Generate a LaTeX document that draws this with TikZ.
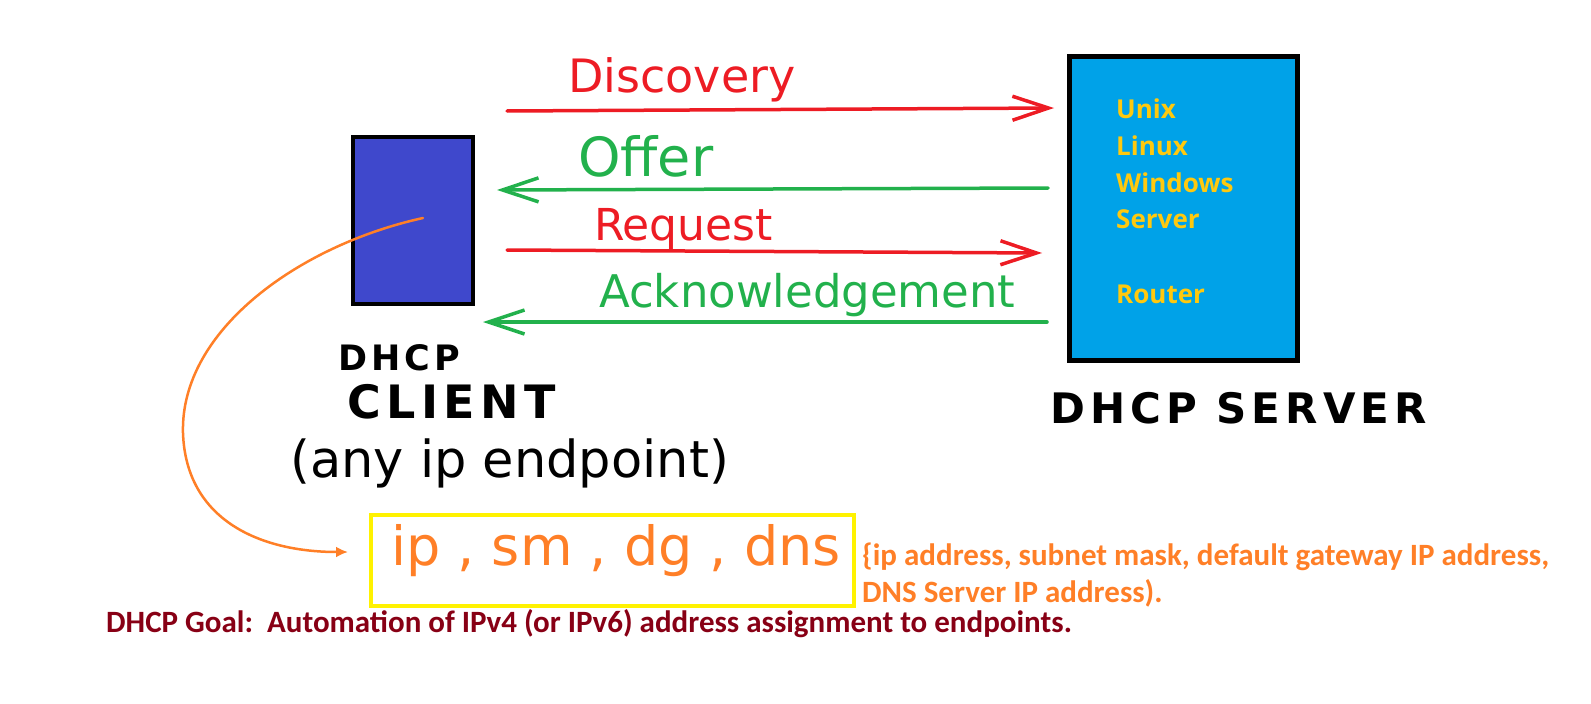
\documentclass[tikz,border=0pt]{standalone}
\usepackage{fontspec}
\setmainfont{Carlito}
\newfontfamily\osfont{Open Sans}
\newfontfamily\handfont{DejaVu Sans}
\newfontfamily\handwide[LetterSpace=12]{DejaVu Sans}
\usetikzlibrary{arrows.meta}
\definecolor{pred}{HTML}{ED1C24}
\definecolor{pgreen}{HTML}{22B14C}
\definecolor{porange}{HTML}{FF7F27}
\definecolor{pyellow}{HTML}{FFF200}
\definecolor{pgold}{HTML}{FFC90E}
\definecolor{pindigo}{HTML}{3F48CC}
\definecolor{pblue}{HTML}{00A2E8}
\definecolor{maroon}{HTML}{880015}
\tikzset{cbox/.style={draw=black,line width=4pt,fill=pindigo,minimum width=120pt,minimum height=167pt,inner sep=0pt}}
\tikzset{sbox/.style={draw=black,line width=5pt,fill=pblue,minimum width=228pt,minimum height=304pt,inner sep=0pt}}
\tikzset{ybox/.style={draw=pyellow,line width=4pt,minimum width=483pt,minimum height=91pt,inner sep=0pt}}
\tikzset{msg/.style={line width=3.5pt,line cap=round,-{Straight Barb[length=36pt,width=24pt]}}}
\tikzset{hw/.style={anchor=base west,inner sep=0pt,font=\handfont\fontsize{#1}{#1}\selectfont}}
\tikzset{hwb/.style={anchor=base west,inner sep=0pt,font=\handwide\bfseries\fontsize{#1}{#1}\selectfont}}
\tikzset{ostxt/.style={anchor=base west,inner sep=0pt,text=pgold,font=\osfont\bfseries\fontsize{26}{26}\selectfont}}
\tikzset{note/.style={anchor=base west,inner sep=0pt,font=\bfseries\fontsize{31}{31}\selectfont}}

\begin{document}
\begin{tikzpicture}[x=1pt,y=-1pt]
\useasboundingbox (0,0) rectangle (1591,704);
\node[cbox] (client) at (413,220.5) {};
\node[sbox] (server) at (1183.5,208.5) {};
\foreach \os/\yy in {Unix/118,Linux/155,Windows/192,Server/228,Router/303}
  \node[ostxt] (os-\os) at (1116,\yy) {\os};
% message arrows
\coordinate (dsc-a) at (507,111); \coordinate (dsc-b) at (1054,108);
\coordinate (ofr-a) at (1048,188); \coordinate (ofr-b) at (497,190);
\coordinate (req-a) at (507,250); \coordinate (req-b) at (1042,253);
\coordinate (ack-a) at (1047,322); \coordinate (ack-b) at (483,322);
\draw[msg,pred] (dsc-a) -- (dsc-b);
\draw[msg,pgreen] (ofr-a) -- (ofr-b);
\draw[msg,pred] (req-a) -- (req-b);
\draw[msg,pgreen] (ack-a) -- (ack-b);
\node[hw=46,text=pred] (dsc) at (568,92) {Discovery};
\node[hw=54,text=pgreen] (ofr) at (578,176) {Offer};
\node[hw=44,text=pred] (req) at (594,240) {Request};
\node[hw=45,text=pgreen] (ack) at (599,307) {Acknowledgement};
% captions
\node[hwb=35] (cl-1) at (338,370) {DHCP};
\node[hwb=46] (cl-2) at (347,418) {CLIENT};
\node[hw=51] (cl-3) at (290,477) {(any ip endpoint)};
\node[hwb=42] (srv) at (1050,423) {DHCP SERVER};
% values box
\node[ybox] (vals) at (612.5,560.5) {};
\node[hw=54,text=porange] (valtxt) at (391,565) {ip , sm , dg , dns};
\coordinate (cdot) at (423,218); \coordinate (ctip) at (348,552);
\draw[porange,line width=2.5pt,line cap=round,-{Latex[length=12pt,width=11pt]}] (cdot) .. controls (300,245) and (180,330) .. (183,433) .. controls (186,520) and (260,552) .. (ctip);
\node[note,text=porange] (ex-1) at (862,565) {\{ip address, subnet mask, default gateway IP address,};
\node[note,text=porange] (ex-2) at (862,602) {DNS Server IP address).};
\node[note,text=maroon] (goal) at (106,632) {DHCP Goal:\ \ Automation of IPv4 (or IPv6) address assignment to endpoints.};
\end{tikzpicture}
\end{document}
